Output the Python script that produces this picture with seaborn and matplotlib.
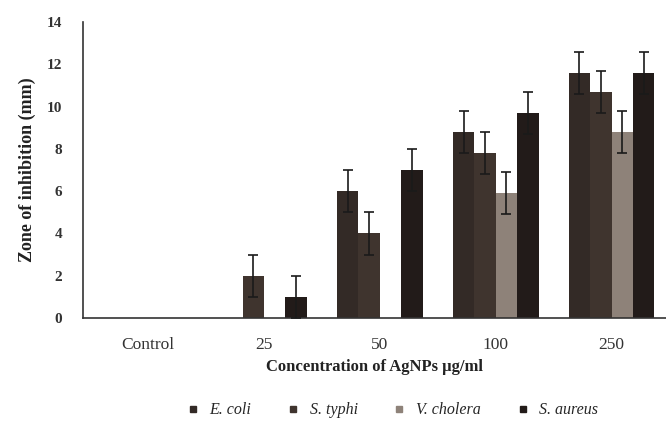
import numpy as np
import pandas as pd
import matplotlib.pyplot as plt
import seaborn as sns
from matplotlib.lines import Line2D

concentrations = ['Control', '25', '50', '100', '250']
strains = ['E. coli', 'S. typhi', 'V. cholera', 'S. aureus']

e_coli = [0, 0, 6.0, 8.8, 11.6]
s_typhi = [0, 2.0, 4.0, 7.8, 10.7]
v_cholera = [0, 0, 0, 5.9, 8.8]
s_aureus = [0, 1.0, 7.0, 9.7, 11.6]

e_coli_err = [0, 0, 1.0, 1.0, 1.0]
s_typhi_err = [0, 1.0, 1.0, 1.0, 1.0]
v_cholera_err = [0, 0, 0, 1.0, 1.0]
s_aureus_err = [0, 1.0, 1.0, 1.0, 1.0]

values = [e_coli, s_typhi, v_cholera, s_aureus]
errors = [e_coli_err, s_typhi_err, v_cholera_err, s_aureus_err]
colors = ['#332a26', '#3f342e', '#8e8279', '#221b19']

df = pd.DataFrame({
    'Concentration': np.tile(concentrations, len(strains)),
    'Strain': np.repeat(strains, len(concentrations)),
    'Zone': np.concatenate(values),
})

sns.set_style('white')
plt.rcParams['font.family'] = ['Liberation Serif', 'DejaVu Serif']

fig = plt.figure(figsize=(6.66, 4.25), dpi=100)
ax = fig.add_axes([0.125, 0.252, 0.875, 0.696])

sns.barplot(data=df, x='Concentration', y='Zone', hue='Strain',
            order=concentrations, hue_order=strains, palette=colors,
            width=0.74, errorbar=None, legend=False, ax=ax,
            edgecolor='none', saturation=1)

for cont, errs in zip(ax.containers, errors):
    for bar, err in zip(cont, errs):
        h = bar.get_height()
        if h <= 0:
            continue
        ax.errorbar(bar.get_x() + bar.get_width() / 2, h, yerr=err,
                    fmt='none', ecolor='#1a1a1a', elinewidth=1.2,
                    capsize=3.5, capthick=1.2, zorder=5)

ax.set_xlim(-0.56, 4.47)
ax.set_ylim(0, 14)
ax.set_yticks(range(0, 15, 2))
ax.set_xticks([0.5, 1.5, 2.5, 3.5], minor=True)
ax.tick_params(axis='x', which='major', length=0, labelsize=12.5, pad=14)
ax.tick_params(axis='x', which='minor', length=3, direction='out', width=1)
ax.tick_params(axis='y', length=3, direction='out', width=1, labelsize=11, pad=12)
for lbl in ax.get_xticklabels() + ax.get_yticklabels():
    lbl.set_color('#333333')
for lbl in ax.get_yticklabels():
    lbl.set_fontweight('bold')

for side in ['top', 'right']:
    ax.spines[side].set_visible(False)
for side in ['left', 'bottom']:
    ax.spines[side].set_color('#333333')
    ax.spines[side].set_linewidth(1.2)

ax.set_xlabel('Concentration of AgNPs µg/ml', fontsize=12, fontweight='bold',
              color='#222222', labelpad=4)
ax.set_ylabel('Zone of inhibition (mm)', fontsize=13, fontweight='bold',
              color='#222222', labelpad=8)

handles = [Line2D([0], [0], marker='s', linestyle='none', markersize=5,
                  markerfacecolor=c, markeredgecolor=c) for c in colors]
fig.legend(handles, strains, loc='center', bbox_to_anchor=(0.582, 0.035),
           ncol=4, frameon=False, handletextpad=0.05, columnspacing=1.6,
           prop={'style': 'italic', 'size': 11.5})

fig.savefig('out.png', dpi=100)
